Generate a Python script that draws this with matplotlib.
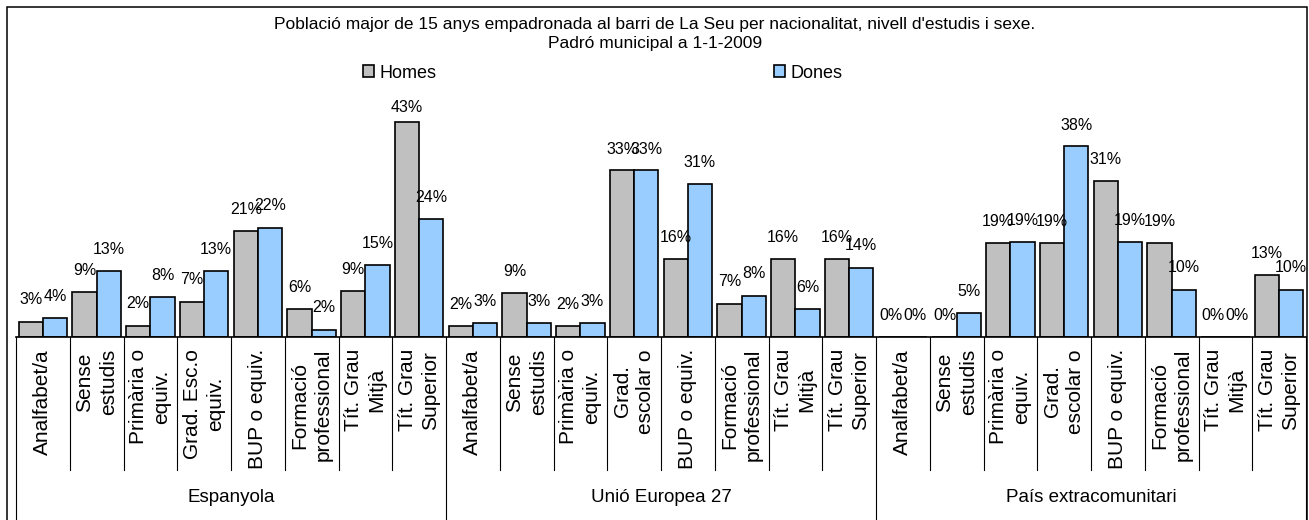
import matplotlib.pyplot as plt
from matplotlib.patches import Patch, Rectangle
from matplotlib.lines import Line2D
import numpy as np

plt.rcParams['font.family'] = ['Liberation Sans', 'DejaVu Sans']

# nationality groups and education levels
groups = ["Espanyola", "Unió Europea 27", "País extracomunitari"]
levels_esp = ["Analfabet/a", "Sense\nestudis", "Primària o\nequiv.", "Grad. Esc.o\nequiv.",
              "BUP o equiv.", "Formació\nprofessional", "Tít. Grau\nMitjà", "Tít. Grau\nSuperior"]
levels_other = ["Analfabet/a", "Sense\nestudis", "Primària o\nequiv.", "Grad.\nescolar o",
                "BUP o equiv.", "Formació\nprofessional", "Tít. Grau\nMitjà", "Tít. Grau\nSuperior"]

# percentages
homes_esp = [3.1, 9.0, 2.3, 7.1, 21.1, 5.7, 9.3, 42.9]
dones_esp = [3.8, 13.3, 8.1, 13.3, 21.9, 1.5, 14.5, 23.6]
homes_ue = [2.2, 8.9, 2.2, 33.3, 15.6, 6.7, 15.6, 15.6]
dones_ue = [2.8, 2.8, 2.8, 33.3, 30.6, 8.3, 5.6, 13.9]
homes_ext = [0, 0, 18.75, 18.75, 31.25, 18.75, 0, 12.5]
dones_ext = [0, 4.8, 19.0, 38.1, 19.0, 9.5, 0, 9.5]

homes = homes_esp + homes_ue + homes_ext
dones = dones_esp + dones_ue + dones_ext
labels = levels_esp + levels_other + levels_other
n = len(labels)
per_group = len(levels_esp)

W, H = 1309, 520
fig = plt.figure(figsize=(W / 100, H / 100), dpi=100)

ax_left, ax_right, ax_base, ax_top = 16, 1306, 337, 98
ax = fig.add_axes([ax_left / W, 1 - ax_base / H, (ax_right - ax_left) / W, (ax_base - ax_top) / H])
ymax = (ax_base - ax_top) / 5.0
ax.set_xlim(-0.5, n - 0.5)
ax.set_ylim(0, ymax)
ax.axis('off')

x = np.arange(n)
bw = 0.45
ax.bar(x - bw / 2, homes, bw, color="#C0C0C0", edgecolor="black", linewidth=1.2, label="Homes")
ax.bar(x + bw / 2, dones, bw, color="#99CCFF", edgecolor="black", linewidth=1.2, label="Dones")

# data labels, kept inside the plot area like Excel does
off = 14 / 5.0
for xs, vals in ((x - bw / 2, homes), (x + bw / 2, dones)):
    for xi, v in zip(xs, vals):
        y = min(v + off, ymax - 3.3)
        ax.text(xi, y, f"{int(v + 0.5)}%", ha='center', va='bottom', fontsize=11.5)

# category axis
tr = ax.get_xaxis_transform()
ph = ax_base - ax_top
ax.plot([-0.5, n - 0.5], [0, 0], color="black", lw=1.2, transform=tr, clip_on=False)
for b in range(n + 1):
    if b % per_group == 0:
        y_end = (ax_base - 520) / ph
    else:
        y_end = (ax_base - 470) / ph
    ax.add_line(Line2D([b - 0.5, b - 0.5], [0, y_end], color="black", lw=0.8,
                       transform=tr, clip_on=False))

for i, lab in enumerate(labels):
    ax.text(i, (ax_base - 349) / ph, lab, transform=tr, rotation=90, ha='center', va='top',
            multialignment='center', linespacing=1.3, fontsize=15, clip_on=False)

for g, name in enumerate(groups):
    xc = g * per_group + (per_group - 1) / 2
    ax.text(xc, (ax_base - 497) / ph, name, transform=tr, ha='center', va='center',
            fontsize=13.5, clip_on=False)

# title and legend
fig.text(655 / W, 1 - 34 / H, "Població major de 15 anys empadronada al barri de La Seu per nacionalitat, nivell d'estudis i sexe.\nPadró municipal a 1-1-2009",
         ha='center', va='center', fontsize=12.5, linespacing=1.3)

handles = [Patch(facecolor="#C0C0C0", edgecolor="black", lw=1.2),
           Patch(facecolor="#99CCFF", edgecolor="black", lw=1.2)]
fig.legend(handles, ["Homes", "Dones"], ncol=2, loc='center', bbox_to_anchor=(603 / W, 1 - 73 / H),
           frameon=False, fontsize=13, handlelength=0.6, handleheight=0.6, handletextpad=0.3,
           columnspacing=18.7)

# chart frame
fig.patches.append(Rectangle((7 / W, -2 / H), (1306.5 - 7) / W, (522 - 7) / H, transform=fig.transFigure,
                             fill=False, edgecolor="black", lw=1.1))

fig.savefig("out.png", dpi=100)
